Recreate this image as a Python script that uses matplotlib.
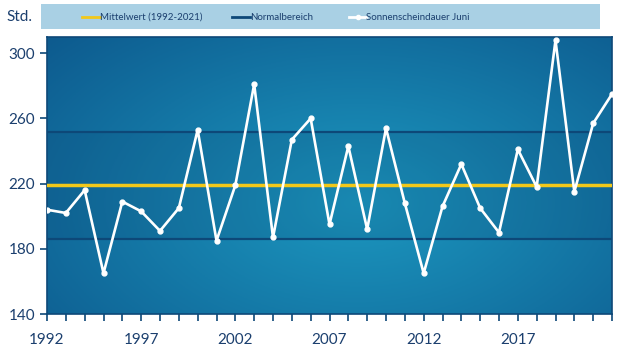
import numpy as np
import matplotlib.pyplot as plt
from matplotlib.lines import Line2D
from matplotlib.patches import Rectangle

plt.rcParams['font.family'] = ['Lato', 'DejaVu Sans']

years = list(range(1992, 2023))
sunshine = [204, 202, 216, 165, 209, 203, 191, 205, 253, 185,
            219, 281, 187, 247, 260, 195, 243, 192, 254, 208,
            165, 206, 232, 205, 190, 241, 218, 308, 215, 257, 275]
mean_value = 219
normal_low = 186
normal_high = 252
x_labels = [1992, 1997, 2002, 2007, 2012, 2017]
y_ticks = [140, 180, 220, 260, 300]

label_col = '#1b3f6e'

fig = plt.figure(figsize=(6.32, 3.55), dpi=100)
fig.patch.set_facecolor('white')
ax = fig.add_axes([47/632, 41/355, 565/632, 277/355])

# background gradient, lighter towards the middle / lower right
nx, ny = 200, 120
gx, gy = np.meshgrid(np.linspace(0, 1, nx), np.linspace(0, 1, ny))
r = np.sqrt(((gx - 0.55) / 0.75) ** 2 + ((gy - 0.4) / 0.9) ** 2)
t = np.clip(1 - r, 0, 1) ** 1.0
c_edge = np.array([0x0d, 0x5a, 0x8e]) / 255
c_mid = np.array([0x1c, 0x98, 0xc0]) / 255
img = c_edge[None, None, :] * (1 - t[..., None]) + c_mid[None, None, :] * t[..., None]
ax.imshow(img, extent=[years[0], years[-1], 140, 310], aspect='auto',
          origin='lower', zorder=0)

ax.axhspan(normal_low, normal_high, color='#0a3560', alpha=0.15, lw=0, zorder=1)
ax.axhline(normal_low, color='#0d4878', lw=1.6, zorder=2)
ax.axhline(normal_high, color='#0d4878', lw=1.6, zorder=2)
ax.axhline(mean_value, color='#f2c81a', lw=2.5, zorder=3)
ax.plot(years, sunshine, color='white', lw=1.9, marker='o', ms=3.5, zorder=4)

ax.set_xlim(years[0], years[-1])
ax.set_ylim(140, 310)
ax.set_xticks(years)
ax.set_xticklabels([str(y) if y in x_labels else '' for y in years])
ax.set_yticks(y_ticks)
for s in ax.spines.values():
    s.set_color('#0d4878')
    s.set_linewidth(1.2)
ax.tick_params(axis='both', colors='#0d4878', labelcolor=label_col,
               labelsize=11, length=5, width=1.2)
ax.tick_params(axis='x', pad=9)

# legend bar
fig.patches.append(Rectangle((41/632, (355-29)/355), 559/632, 25/355,
                             transform=fig.transFigure, facecolor='#a9d0e4',
                             edgecolor='none', zorder=0))
ly = (355-17)/355
fig.lines.append(Line2D([82/632, 100/632], [ly, ly], transform=fig.transFigure,
                        color='#f2c81a', lw=2))
fig.lines.append(Line2D([232/632, 250/632], [ly, ly], transform=fig.transFigure,
                        color='#0d4878', lw=2))
fig.lines.append(Line2D([349/632, 357.5/632, 366/632], [ly, ly, ly],
                        transform=fig.transFigure, color='white', lw=2,
                        marker='o', ms=3, markevery=[1]))
fig.text(100/632, ly, 'Mittelwert (1992-2021)', fontsize=7, color=label_col, va='center')
fig.text(250/632, ly, 'Normalbereich', fontsize=7, color=label_col, va='center')
fig.text(366/632, ly, 'Sonnenscheindauer Juni', fontsize=7, color=label_col, va='center')
fig.text(6/632, ly, 'Std.', fontsize=11, color=label_col, va='center')

fig.savefig('out.png', dpi=100)
